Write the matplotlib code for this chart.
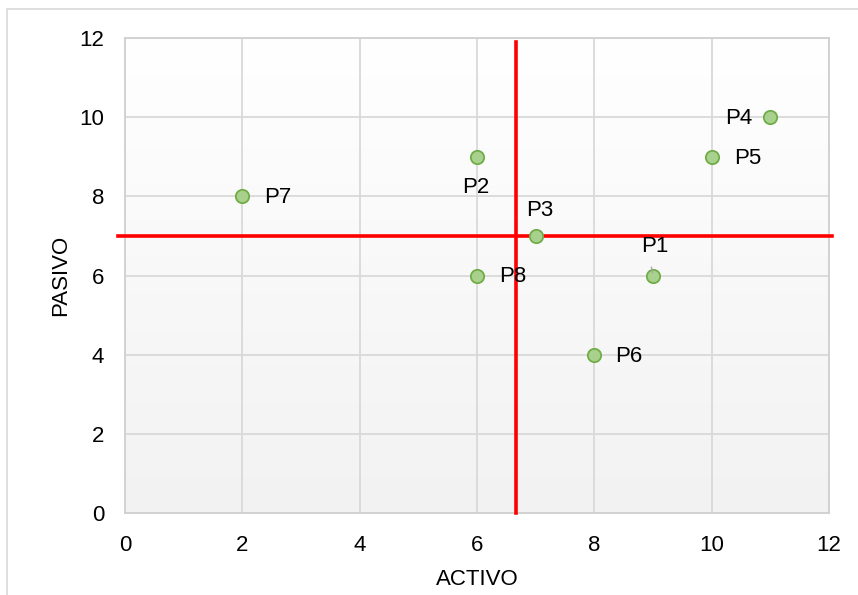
import matplotlib
matplotlib.use("Agg")
import matplotlib.pyplot as plt
import numpy as np
from matplotlib.patches import Rectangle

labels = ["P1", "P2", "P3", "P4", "P5", "P6", "P7", "P8"]
activo = [9, 6, 7, 11, 10, 8, 2, 6]
pasivo = [6, 9, 7, 10, 9, 4, 8, 6]
# label offsets in points (dx, dy), ha
offsets = {
    "P1": (1, 21, "center"), "P2": (-1, -22, "center"), "P3": (3, 18, "center"),
    "P4": (-13, -1, "right"), "P5": (16, -1, "left"), "P6": (15, -1, "left"),
    "P7": (16, -1, "left"), "P8": (16, -1, "left"),
}
vline_x = 6.66
hline_y = 7.0
ticks = [0, 2, 4, 6, 8, 10, 12]

plt.rcParams['font.family'] = ['Liberation Sans', 'DejaVu Sans']

fig = plt.figure(figsize=(8.58, 5.95), dpi=100)
fig.patches.append(Rectangle((7/858, -0.1), 1.2, 1 - 9/595 + 0.1, transform=fig.transFigure,
                             fill=False, edgecolor="#d9d9d9", lw=1.2))
ax = fig.add_axes([125/858, 1 - 513/595, (829 - 125)/858, (513 - 38)/595])

# gradient background
grad = np.linspace(1.0, 0.0, 256).reshape(-1, 1)
top = np.array([1.0, 1.0, 1.0]); bot = np.array([0xf2, 0xf2, 0xf2]) / 255
img = top * grad[..., None] + bot * (1 - grad[..., None])
ax.imshow(img, extent=[0, 1, 0, 1], transform=ax.transAxes, aspect="auto", zorder=0)

ax.set_xlim(0, 12)
ax.set_ylim(0, 12)
ax.set_xticks(ticks)
ax.set_yticks(ticks)
ax.grid(True, color="#d9d9d9", lw=1.3, zorder=1)
for s in ax.spines.values():
    s.set_color("#d0d0d0")
    s.set_linewidth(1.3)
ax.tick_params(length=0, labelsize=16, pad=15, colors="black")
ax.tick_params(axis="x", pad=16)

ax.plot([vline_x, vline_x], [0, 11.9], color="#ff0000", lw=2.6, zorder=3, clip_on=False)
ax.plot([-0.12, 12.05], [hline_y, hline_y], color="#ff0000", lw=2.6, zorder=3, clip_on=False)

ax.scatter(activo, pasivo, s=92, facecolor="#a9d18e", edgecolor="#70ad47", linewidth=1.3, zorder=4)

for lab, x, y in zip(labels, activo, pasivo):
    dx, dy, ha = offsets[lab]
    ax.annotate(lab, (x, y), xytext=(dx, dy), textcoords="offset points",
                ha=ha, va="center", fontsize=16, zorder=5)
# leader line for P1
ax.annotate("", (9, 6), xytext=(-1.5, 8), textcoords="offset points",
            arrowprops=dict(arrowstyle="-", color="#a6a6a6", lw=1), zorder=5)

ax.set_xlabel("ACTIVO", fontsize=16, labelpad=9)
ax.set_ylabel("PASIVO", fontsize=16, labelpad=6)

fig.savefig("out.png", dpi=100)
